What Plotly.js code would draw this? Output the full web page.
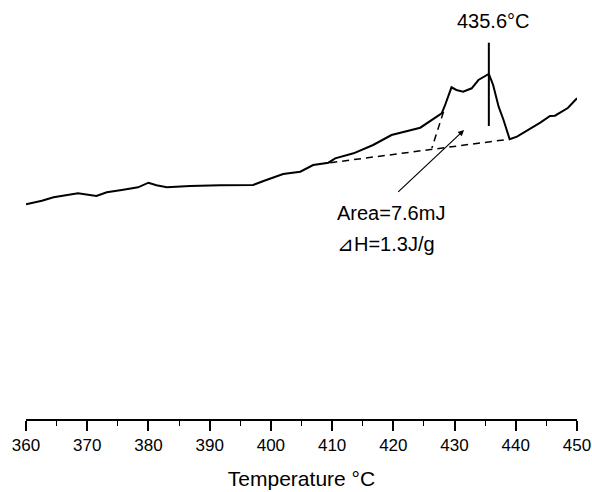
<!DOCTYPE html>
<html>
<head>
<meta charset="utf-8">
<script src="https://cdn.plot.ly/plotly-3.0.1.min.js"></script>
<style>html,body{margin:0;padding:0;background:#fff;}#chart{width:592px;height:492px;}</style>
</head>
<body>
<div id="chart"></div>
<script>
// DSC curve (temperature in °C, heat flow in arbitrary units)
const temperature = [360, 362.6, 364.5, 366.6, 368.5, 371.5, 373.2, 375.9, 378.3, 380.0, 381.3, 383.0, 386.8, 391.7, 397.1, 398.8, 402.0, 404.8, 406.9, 409.4, 410.5, 413.5, 416.7, 419.7, 422.0, 424.4, 427.9, 428.4, 429.5, 430.3, 431.4, 432.8, 433.9, 435.6, 436.3, 437.2, 438.0, 439.0, 440.2, 442.3, 444.0, 445.6, 446.4, 448.5, 450.0];
const heatFlow = [21.47, 21.83, 22.17, 22.37, 22.57, 22.3, 22.67, 22.93, 23.17, 23.63, 23.37, 23.17, 23.3, 23.37, 23.4, 23.8, 24.5, 24.73, 25.4, 25.63, 26.07, 26.57, 27.4, 28.4, 28.75, 29.13, 30.57, 31.3, 33.17, 32.9, 32.73, 33.07, 33.9, 34.5, 33.4, 31.23, 29.9, 27.97, 28.23, 28.97, 29.63, 30.3, 30.33, 31.1, 32.07];

// Integration baseline
const baselineT = [409.7, 438.8];
const baselineY = [25.63, 27.97];
// Onset tangent
const onsetT = [428.2, 426.3];
const onsetY = [30.73, 27.1];
// Peak marker
const peakT = 435.6;
const peakMarkY = [37.63, 29.3];
const peakLabel = "435.6°C";
const areaLabel = "Area=7.6mJ";
const enthalpyLabel = "⊿H=1.3J/g";
const xTicks = [360, 370, 380, 390, 400, 410, 420, 430, 440, 450];

const FONT = "Liberation Sans, Arial, Helvetica, sans-serif";

const traces = [
  {x: temperature, y: heatFlow, mode: 'lines', line: {color: '#000', width: 2}, hoverinfo: 'skip'},
  {x: baselineT, y: baselineY, mode: 'lines', line: {color: '#000', width: 1.5, dash: '7px,5px'}, hoverinfo: 'skip'},
  {x: onsetT, y: onsetY, mode: 'lines', line: {color: '#000', width: 1.5, dash: '7px,5px'}, hoverinfo: 'skip'},
  {x: [peakT, peakT], y: peakMarkY, mode: 'lines', line: {color: '#000', width: 2}, hoverinfo: 'skip'}
];

const layout = {
  width: 592, height: 492,
  margin: {l: 26, r: 15, t: 0, b: 73, pad: 0},
  paper_bgcolor: '#fff', plot_bgcolor: '#fff',
  showlegend: false,
  font: {family: FONT, color: '#000'},
  xaxis: {
    range: [360, 450],
    tickvals: xTicks,
    ticktext: xTicks.map(String),
    showgrid: false, zeroline: false,
    showline: true, linecolor: '#000', linewidth: 2,
    ticks: 'outside', ticklen: 10, tickwidth: 2, tickcolor: '#000',
    minor: {dtick: 5, tick0: 360, ticks: 'outside', ticklen: 5, tickwidth: 1, tickcolor: '#000', showgrid: false},
    tickfont: {size: 17, family: FONT, color: '#000'},
    ticklabeloverflow: 'allow',
    title: {text: 'Temperature °C', font: {size: 21, family: FONT, color: '#000'}, standoff: 17}
  },
  yaxis: {range: [0, 41.9], visible: false, showgrid: false, zeroline: false},
  annotations: [
    {x: 436.3, y: 39.8, xref: 'x', yref: 'y', text: peakLabel, showarrow: false,
     font: {size: 20, family: FONT, color: '#000'}},
    {x: 410.4, y: 20.6, xref: 'x', yref: 'y', text: areaLabel, showarrow: false, xanchor: 'left',
     font: {size: 20, family: FONT, color: '#000'}},
    {x: 410.4, y: 17.5, xref: 'x', yref: 'y', text: enthalpyLabel, showarrow: false, xanchor: 'left',
     font: {size: 20, family: FONT, color: '#000'}},
    {x: 431.55, y: 28.9, ax: 420.55, ay: 22.57, xref: 'x', yref: 'y', axref: 'x', ayref: 'y',
     text: '', showarrow: true, arrowhead: 2, arrowsize: 1, arrowwidth: 1.2, arrowcolor: '#000'}
  ]
};

Plotly.newPlot('chart', traces, layout, {staticPlot: true, displayModeBar: false});
</script>
</body>
</html>
